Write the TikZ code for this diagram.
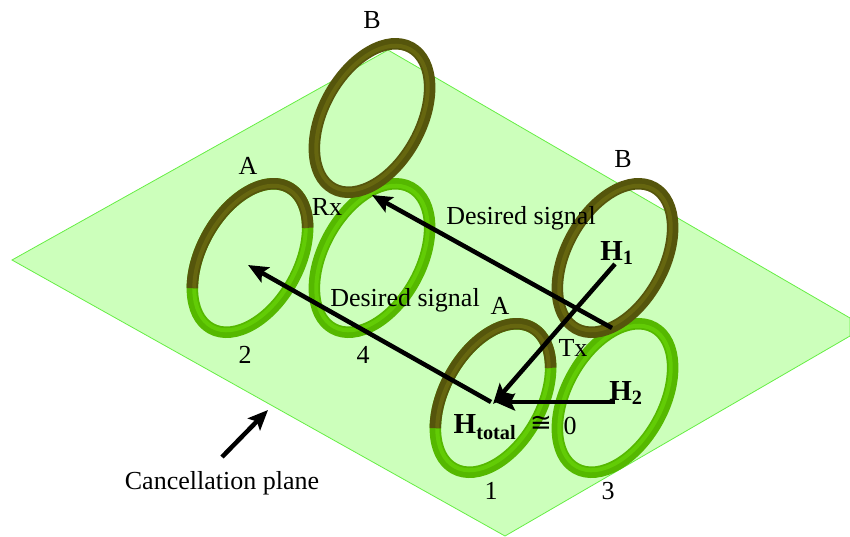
\documentclass[tikz,border=0pt]{standalone}
\usepackage{fontspec}
\setmainfont{Liberation Serif}
\newfontfamily\symbfont{DejaVu Sans}
\usetikzlibrary{arrows.meta}
\tikzset{
  plane/.style={draw=planeedge, fill=planefill, line width=0.8pt},
  greenband/.style={draw=coilgreen, line width=11.5pt},
  greenshade/.style={draw=coilgreenlt, line width=4pt},
  oliveband/.style={draw=coilolive, line width=11.5pt},
  oliveshade/.style={draw=coilolivelt, line width=4pt},
  lbl/.style={font=\fontsize{26}{30}\selectfont, inner sep=0pt, text=black},
  fieldlbl/.style={font=\fontsize{29}{32}\selectfont\bfseries, inner sep=0pt, text=black},
  sig/.style={line width=4.5pt, draw=black, -{Stealth[length=20pt,width=17pt,inset=4pt]}}
}
\definecolor{planefill}{HTML}{CCFFBB}
\definecolor{planeedge}{HTML}{66EE44}
\definecolor{coilgreen}{HTML}{55B800}
\definecolor{coilgreenlt}{HTML}{62CC05}
\definecolor{coilolive}{HTML}{55550C}
\definecolor{coilolivelt}{HTML}{66660F}
% Ring: whole ellipse in one colour
\newcommand{\wholering}[3]{%
  \draw[#1band, shift={(#2,#3)}, rotate=61] (0,0) ellipse [x radius=80.5pt, y radius=48.5pt];
  \draw[#1shade, shift={(#2,#3)}, rotate=61] (0,0) ellipse [x radius=78.5pt, y radius=46.5pt];
}
% Ring: upper half in olive
\newcommand{\halfring}[2]{%
  \wholering{green}{#1}{#2}
  \draw[oliveband, shift={(#1,#2)}, rotate=61] (-47.5:80.5pt and 48.5pt)
    arc [start angle=-47.5, end angle=132.5, x radius=80.5pt, y radius=48.5pt];
  \draw[oliveshade, shift={(#1,#2)}, rotate=61] (-47.5:78.5pt and 46.5pt)
    arc [start angle=-47.5, end angle=132.5, x radius=78.5pt, y radius=46.5pt];
}
\begin{document}
\begin{tikzpicture}[x=1pt, y=-1pt]
  \useasboundingbox (0,0) rectangle (850,536);
  % Cancellation plane
  \draw[plane] (388,50) -- (850,318) -- (850,336) -- (505,536) -- (12,260) -- cycle;
  % Rings
  \wholering{green}{372}{258}
  \wholering{green}{615}{398}
  \halfring{250}{258}
  \halfring{493}{398}
  \wholering{olive}{372}{118}
  \wholering{olive}{615}{258}
  % Arrow ends
  \coordinate (txB) at (612,328);
  \coordinate (rxB) at (372,195);
  \coordinate (txA) at (491,402);
  \coordinate (rxA) at (248,265);
  \coordinate (fieldA) at (615,264);
  \coordinate (fieldB) at (615,402);
  \coordinate (sumA) at (493,404);
  \coordinate (sumB) at (495,402);
  \coordinate (planeTail) at (222,457);
  \coordinate (planeTip) at (268,410);
  % Signals and fields
  \draw[sig] (txB) -- (rxB);
  \draw[sig] (txA) -- (rxA);
  \draw[sig] (fieldA) -- (sumA);
  \draw[sig] (fieldB) -- (sumB);
  \draw[sig] (planeTail) -- (planeTip);
  % Labels
  \node[lbl] (labB) at (372,20) {B};
  \node[lbl] (labA) at (248,166) {A};
  \node[lbl] (labRx) at (327,207) {Rx};
  \node[lbl] (labTwo) at (245,355) {2};
  \node[lbl] (labFour) at (363,355) {4};
  \node[lbl] (sigUp) at (521,218) {Desired signal};
  \node[lbl] (sigLow) at (405,300) {Desired signal};
  \node[lbl] (labBr) at (623,159) {B};
  \node[lbl] (labAr) at (500,306) {A};
  \node[lbl] (labTx) at (573,348) {Tx};
  \node[lbl] (labOne) at (491,491) {1};
  \node[lbl] (labThree) at (608,491) {3};
  \node[fieldlbl] (fieldH1) at (617,253) {H\textsubscript{1}};
  \node[fieldlbl] (fieldH2) at (626,393) {H\textsubscript{2}};
  \node[fieldlbl] (fieldSum) at (485,427) {H\textsubscript{total}};
  \node[lbl] (labCong) at (541,424) {\symbfont ≅};
  \node[lbl] (labZero) at (570,426) {0};
  \node[lbl] (labPlane) at (222,483) {Cancellation plane};
\end{tikzpicture}
\end{document}
